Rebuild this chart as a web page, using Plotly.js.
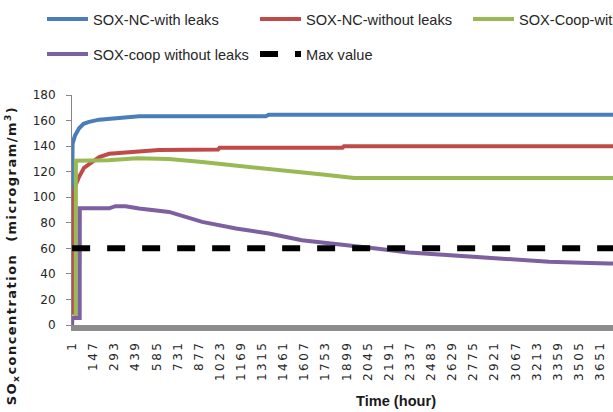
<!DOCTYPE html>
<html>
<head>
<meta charset="utf-8">
<script src="https://cdn.plot.ly/plotly-3.0.1.min.js"></script>
<style>
  html, body { margin: 0; padding: 0; overflow: hidden; background: #fff; }
  #chart { width: 730px; height: 412px; }
  .xtick text { letter-spacing: 2.4px; }
  .annotation[data-index="0"] text { letter-spacing: 1.45px; }
</style>
</head>
<body>
<div id="chart"></div>
<script>
// ---- data ----
const tickLabels = [1, 147, 293, 439, 585, 731, 877, 1023, 1169, 1315, 1461, 1607, 1753, 1899, 2045,
  2191, 2337, 2483, 2629, 2775, 2921, 3067, 3213, 3359, 3505, 3651];

const seriesNames = ['SOX-NC-with leaks', 'SOX-NC-without leaks', 'SOX-Coop-with leaks',
  'SOX-coop without leaks', 'Max value'];

const hoursNCLeaks = [1, 4, 20, 49, 80, 118, 188, 300, 395, 464, 700, 1000, 1340, 1360, 2000, 3000, 4480];
const valuesNCLeaks = [100, 142, 148, 154, 157.5, 159, 160.7, 161.8, 162.5, 163.3, 163.3, 163.3, 163.3, 164.5, 164.5, 164.5, 164.5];

const hoursNCNoLeaks = [1, 8, 20, 49, 83, 118, 188, 257, 395, 600, 1010, 1020, 1870, 1880, 3000, 4480];
const valuesNCNoLeaks = [8, 95, 108, 116, 123, 126, 131.5, 134, 135.4, 137, 137.3, 138.7, 138.7, 139.8, 139.8, 139.8];

const hoursCoopLeaks = [1, 26, 27, 250, 450, 670, 900, 1130, 1360, 1590, 1750, 1950, 3000, 4480];
const valuesCoopLeaks = [6, 6, 128.5, 129, 130.5, 130, 127.5, 125, 122.5, 120, 117.5, 115, 115, 115];

const hoursCoopNoLeaks = [1, 2, 53, 54, 257, 300, 370, 464, 671, 900, 1134, 1362, 1590, 1867, 2102, 2330,
  2558, 2835, 3070, 3297, 3525, 3712, 4480];
const valuesCoopNoLeaks = [0, 5.5, 5.5, 91.3, 91.3, 93, 93, 91.2, 88.5, 80.7, 75.5, 71.6, 66.4, 63.3, 59.9, 56.8,
  55, 53.4, 50.8, 49.5, 48.7, 48.2, 47.5];

const maxHours = [1, 4480];
const maxValues = [60, 60];

// ---- drawing ----
const colors = ['#4A7EBB', '#BE4B48', '#98B954', '#7D60A0', '#000000'];
const W = 730, H = 412;

function lineTrace(x, y, i, legend) {
  return {
    type: 'scatter', mode: 'lines', x: x, y: y, name: seriesNames[i],
    line: { color: colors[i], width: 4 }, legend: legend, hoverinfo: 'skip'
  };
}

const traces = [
  lineTrace(hoursNCLeaks, valuesNCLeaks, 0, 'legend'),
  lineTrace(hoursNCNoLeaks, valuesNCNoLeaks, 1, 'legend'),
  lineTrace(hoursCoopLeaks, valuesCoopLeaks, 2, 'legend'),
  lineTrace(hoursCoopNoLeaks, valuesCoopNoLeaks, 3, 'legend2'),
  {
    type: 'scatter', mode: 'lines', x: maxHours, y: maxValues, name: seriesNames[4],
    line: { color: colors[4], width: 6, dash: '18px,17px' }, legend: 'legend2', hoverinfo: 'skip'
  }
];

const sans = '"Liberation Sans", Arial, sans-serif';
const legendBase = {
  orientation: 'h', xref: 'container', yref: 'container', xanchor: 'left', yanchor: 'top',
  font: { family: sans, size: 14.6, color: '#262626' },
  itemwidth: 41, entrywidth: 157, entrywidthmode: 'pixels',
  bgcolor: 'rgba(0,0,0,0)', borderwidth: 0, tracegroupgap: 0, traceorder: 'normal'
};

const layout = {
  width: W, height: H,
  margin: { l: 72, r: 10, t: 95, b: 87, pad: 0 },
  paper_bgcolor: '#ffffff', plot_bgcolor: '#ffffff',
  showlegend: true,
  legend: Object.assign({}, legendBase, { x: 42 / W, y: 1 - 3 / H }),
  legend2: Object.assign({}, legendBase, { x: 42 / W, y: 1 - 38 / H }),
  xaxis: {
    type: 'linear', range: [0, 4480],
    tickmode: 'array', tickvals: tickLabels, ticktext: tickLabels.map(String),
    tickangle: -90, ticks: '', showgrid: false, zeroline: false,
    showline: true, linecolor: '#8C8C8C', linewidth: 6,
    tickfont: { family: '"DejaVu Sans", Verdana, sans-serif', size: 12, color: '#262626' },
    ticklabelstandoff: 5
  },
  yaxis: {
    range: [0, 180], tickmode: 'array', tickvals: [0, 20, 40, 60, 80, 100, 120, 140, 160, 180],
    ticks: 'outside', ticklen: 5, tickcolor: '#868686', tickwidth: 1,
    showgrid: false, zeroline: false, showline: true, linecolor: '#868686', linewidth: 1,
    tickfont: { family: '"DejaVu Sans", Verdana, sans-serif', size: 12, color: '#262626' },
    ticklabelstandoff: 8
  },
  annotations: [
    {
      text: 'SO<sub>x</sub>concentration \u00a0(microgram/m<sup>3</sup>)',
      xref: 'paper', yref: 'paper', x: (12 - 72) / 648, y: (325 - 256) / 230,
      xanchor: 'center', yanchor: 'middle', textangle: -90, showarrow: false,
      font: { family: '"DejaVu Sans", Verdana, sans-serif', size: 13, color: '#1a1a1a', weight: 'bold' }
    },
    {
      text: 'Time (hour)',
      xref: 'paper', yref: 'paper', x: 0.5, y: -(401 - 325) / 230,
      xanchor: 'center', yanchor: 'middle', showarrow: false,
      font: { family: sans, size: 14.6, color: '#1a1a1a', weight: 'bold' }
    }
  ]
};

Plotly.newPlot('chart', traces, layout, { displayModeBar: false, staticPlot: true });
</script>
</body>
</html>
